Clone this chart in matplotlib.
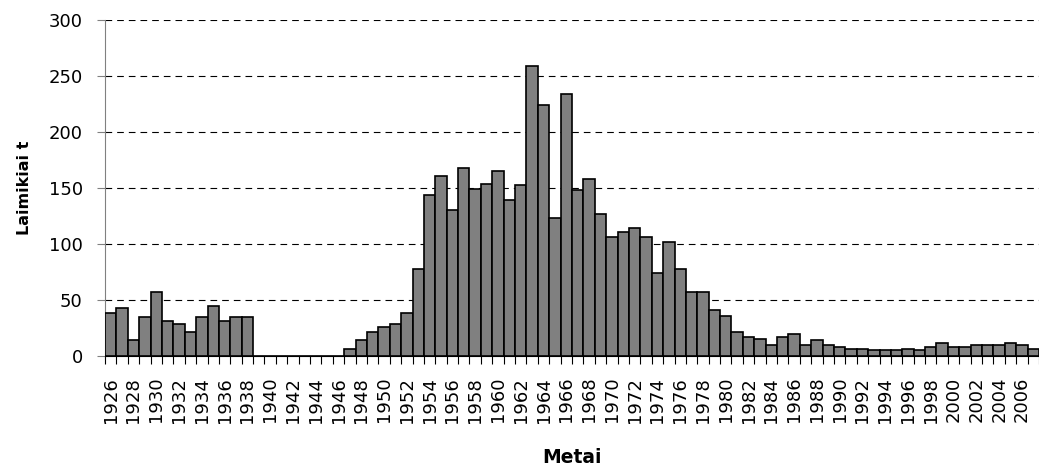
import numpy as np
import matplotlib
matplotlib.use("Agg")
import matplotlib.pyplot as plt

years = list(range(1926, 2008))
catches = [
    38, 43, 14, 35, 57, 31, 29, 21, 35, 45, 31, 35, 35,      # 1926-1938
    0, 0, 0, 0, 0, 0, 0, 0,                                  # 1939-1946
    6, 14, 21, 26, 29, 38, 78, 144, 161, 130,                # 1947-1956
    168, 149, 154, 165, 139, 153, 259, 224, 123, 234,        # 1957-1966
    148, 158, 127, 106, 111, 114, 106, 74, 102, 78,          # 1967-1976
    57, 57, 41, 36, 21, 17, 15, 10, 17, 20,                  # 1977-1986
    10, 14, 10, 8, 6, 6, 5, 5, 5, 6,                         # 1987-1996
    5, 8, 12, 8, 8, 10, 10, 10, 12, 10,                      # 1997-2006
    6,                                                       # 2007
]
y_ticks = [0, 50, 100, 150, 200, 250, 300]

plt.rcParams["font.family"] = "DejaVu Sans"

fig = plt.figure(figsize=(10.39, 4.72), dpi=100)
ax = fig.add_axes([105 / 1039, 116 / 472, 934 / 1039, 336 / 472])

x = np.arange(len(years))
ax.bar(x, catches, width=1.0, color="#808080", edgecolor="black",
       linewidth=1.2, zorder=3)

ax.set_xlim(-0.5, 81.0)
ax.set_ylim(0, 300)
ax.set_yticks(y_ticks)
ax.tick_params(axis="y", labelsize=13, length=6, pad=10, color="#808080")
ax.grid(axis="y", color="black", linestyle=(0, (6, 4.5)), linewidth=0.8, zorder=0)

# ticks between bars, labels on every other year
ax.set_xticks(np.arange(-0.5, len(years), 1.0))
ax.set_xticklabels([])
ax.set_xticks(x[::2], minor=True)
ax.set_xticklabels([str(y) for y in years[::2]], minor=True, rotation=90)
ax.tick_params(axis="x", which="major", length=6, color="black")
ax.tick_params(axis="x", which="minor", length=0, pad=15, labelsize=13)

for side in ["top", "right"]:
    ax.spines[side].set_visible(False)
ax.spines["left"].set_color("#808080")
ax.spines["bottom"].set_color("black")

ax.set_ylabel("Laimikiai t", fontsize=11.5, fontweight="bold", labelpad=12)
ax.set_xlabel("Metai", fontsize=13.5, fontweight="bold", labelpad=18)

fig.savefig("out.png", dpi=100)
